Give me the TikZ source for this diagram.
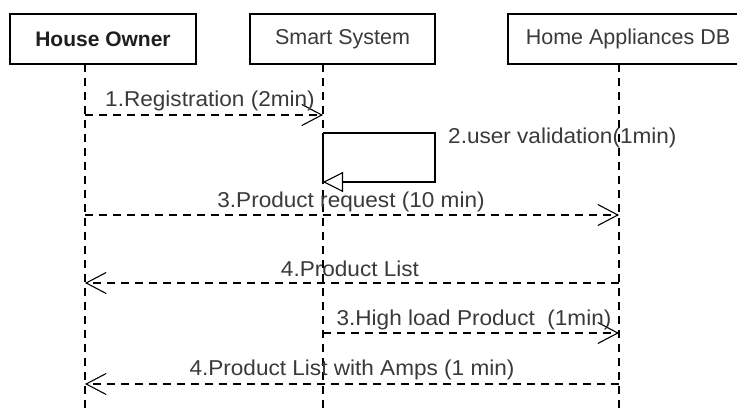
\documentclass[tikz,border=0pt]{standalone}
\usepackage{fontspec}
\setmainfont{Liberation Sans}
\newfontfamily\lblfont{Liberation Sans}[FakeStretch=1.05]
\usetikzlibrary{arrows.meta}
\definecolor{txt}{HTML}{3A3A3A}
\begin{document}
\begin{tikzpicture}[x=1pt,y=-1pt,
  box/.style={draw, line width=1.1pt, minimum height=50pt, inner sep=0pt,
    font=\fontsize{21.5}{24}\selectfont, text=txt},
  life/.style={line width=1.1pt, dash pattern=on 8pt off 6pt},
  msg/.style={life, -{Straight Barb[length=20pt,width=21pt]}},
  lbl/.style={font=\lblfont\fontsize{21.5}{24}\selectfont, text=txt, inner sep=0pt}]
\useasboundingbox (0,0) rectangle (737,414);
\fill[white] (0,0) rectangle (737,414);
\clip (0,0) rectangle (737,414);

% participants
\node[box, minimum width=186pt, font=\fontsize{21}{24}\selectfont\bfseries, text=black!88] (ho) at (103,39) {House Owner};
\node[box, minimum width=185pt] (ss) at (342.5,39) {Smart System};
\node[box, minimum width=240pt] (db) at (628,39) {Home Appliances DB};

% lifeline ends
\coordinate (hoT) at (85,64);   \coordinate (hoB) at (85,414);
\coordinate (ssT) at (323,64);  \coordinate (ssB) at (323,414);
\coordinate (dbT) at (619,64);  \coordinate (dbB) at (619,414);

\draw[life] (hoT) -- (hoB);
\draw[life] (ssT) -- (ssB);
\draw[life] (dbT) -- (dbB);

% message end points
\coordinate (m1a) at (hoT |- 0,115); \coordinate (m1b) at (ssT |- 0,115);
\coordinate (s1)  at (ssT |- 0,133); \coordinate (s2)  at (ssT |- 0,182);
\coordinate (s1r) at (435,133);      \coordinate (s2r) at (435,182);
\coordinate (m3a) at (hoT |- 0,215); \coordinate (m3b) at (dbT |- 0,215);
\coordinate (m4a) at (dbT |- 0,283); \coordinate (m4b) at (hoT |- 0,283);
\coordinate (m5a) at (ssT |- 0,333); \coordinate (m5b) at (dbT |- 0,333);
\coordinate (m6a) at (dbT |- 0,384); \coordinate (m6b) at (hoT |- 0,384);

% messages
\draw[msg] (m1a) -- (m1b);
\fill[white] (s1) rectangle (s2);
\draw[line width=1.1pt] (s1) -- (s2);
\draw[line width=1.1pt, -{Triangle[open,length=20pt,width=20pt,fill=white]}] (s1) -- (s1r) -- (s2r) -- (s2);
\draw[msg] (m3a) -- (m3b);
\draw[msg] (m4a) -- (m4b);
\draw[msg] (m5a) -- (m5b);
\draw[msg] (m6a) -- (m6b);

% labels
\node[lbl] (l1) at (210,101) {1.Registration (2min)};
\node[lbl, anchor=west] (l2) at (448,138) {2.user validation(1min)};
\node[lbl] (l3) at (351,202) {3.Product request (10 min)};
\node[lbl] (l4) at (350,269) {4.Product List};
\node[lbl] (l5) at (474,320) {3.High load Product~~(1min)};
\node[lbl] (l6) at (352,370) {4.Product List with Amps (1 min)};
\end{tikzpicture}
\end{document}
